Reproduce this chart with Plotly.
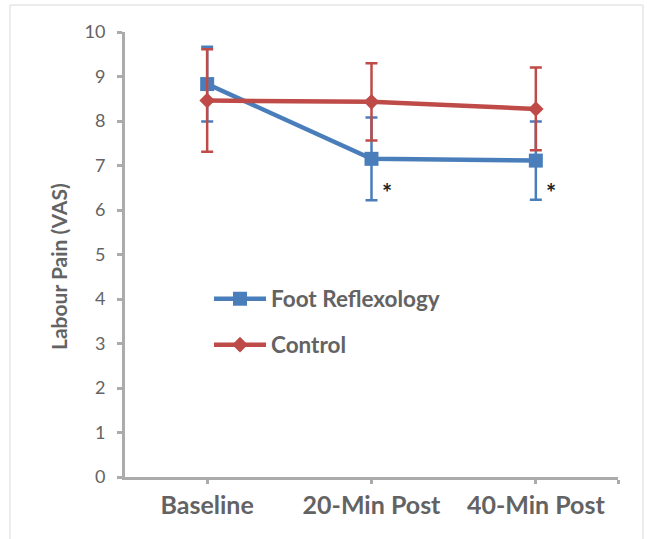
import plotly.graph_objects as go

categories = ["Baseline", "20-Min Post", "40-Min Post"]
reflex_mean = [8.83, 7.15, 7.11]
reflex_err = [0.84, 0.93, 0.88]
control_mean = [8.46, 8.43, 8.27]
control_err = [1.15, 0.87, 0.93]
y_ticks = [0, 1, 2, 3, 4, 5, 6, 7, 8, 9, 10]
signif_idx = [1, 2]
y_title = "Labour Pain (VAS)"

BLUE = "#4A7EBB"
RED = "#BE4B48"
TXT = "#636363"
AX = "#ABABAB"
FONT = "Lato, 'Open Sans', sans-serif"

xpos = list(range(len(categories)))

fig = go.Figure()
fig.add_trace(go.Scatter(
    x=xpos, y=reflex_mean, name="Foot Reflexology", mode="lines+markers",
    line=dict(color=BLUE, width=4.5),
    marker=dict(symbol="square", size=14, color=BLUE),
    error_y=dict(type="data", array=reflex_err, visible=True, color=BLUE, thickness=2.5, width=6),
    legend="legend",
))
fig.add_trace(go.Scatter(
    x=xpos, y=control_mean, name="Control", mode="lines+markers",
    line=dict(color=RED, width=4.5),
    marker=dict(symbol="diamond", size=12, color=RED),
    error_y=dict(type="data", array=control_err, visible=True, color=RED, thickness=2.5, width=6),
    legend="legend2",
))

for i in signif_idx:
    fig.add_annotation(x=i, y=6.4, text="<b>*</b>", showarrow=False, xshift=15,
                       font=dict(size=24, color="#222222", family=FONT))

W, H = 647, 539
L, R, T, B = 125, 29, 32, 62
pw, ph = W - L - R, H - T - B

def px(x):
    return (x - L) / pw

def py(y):
    return (H - B - y) / ph

fig.add_annotation(xref="paper", yref="paper", x=px(58), y=py(267), text=y_title,
                   textangle=-90, showarrow=False, xanchor="center", yanchor="middle",
                   font=dict(size=21, color=TXT, family=FONT, weight="bold"))

fig.add_shape(type="rect", xref="paper", yref="paper",
              x0=px(10), x1=px(643), y0=py(580), y1=py(5),
              line=dict(color="#D9D9D9", width=1), fillcolor="rgba(0,0,0,0)", layer="below")

legfont = dict(size=22.5, color=TXT, family=FONT, weight="bold")
fig.update_layout(
    width=W, height=H,
    margin=dict(l=L, r=R, t=T, b=B),
    paper_bgcolor="white", plot_bgcolor="white",
    showlegend=True,
    legend=dict(x=px(209), y=py(299), xanchor="left", yanchor="middle",
                font=legfont, bgcolor="rgba(0,0,0,0)", itemwidth=52),
    legend2=dict(x=px(209), y=py(345), xanchor="left", yanchor="middle",
                 font=legfont, bgcolor="rgba(0,0,0,0)", itemwidth=52),
    xaxis=dict(
        range=[-0.5, 2.5], tickvals=xpos + [2.5], ticktext=categories + [""],
        showline=True, linecolor=AX, linewidth=3,
        ticks="outside", ticklen=4, tickcolor=AX, tickwidth=2.5,
        showgrid=False, zeroline=False,
        tickfont=dict(size=25, color=TXT, family=FONT, weight="bold"),
    ),
    yaxis=dict(
        range=[0, 10], tickvals=y_ticks,
        showline=True, linecolor=AX, linewidth=3,
        ticks="outside", ticklen=5, tickcolor=AX, tickwidth=2.5,
        showgrid=False, zeroline=False, ticklabelstandoff=8,
        tickfont=dict(size=18, color=TXT, family=FONT),
    ),
)

fig.write_html("out.html", config={"displayModeBar": False},
               post_script="document.body.style.margin='0';document.body.style.overflow='hidden';")
